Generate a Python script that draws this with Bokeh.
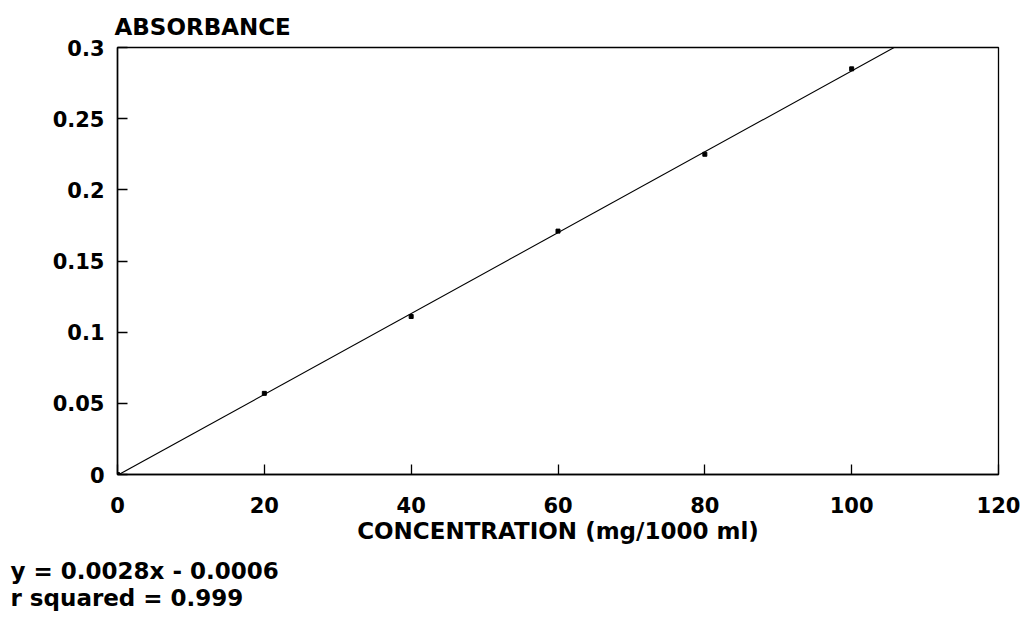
import numpy as np
from bokeh.plotting import figure
from bokeh.models import Range1d, FixedTicker, CustomJSTickFormatter, Title
from bokeh.embed import file_html
from bokeh.resources import INLINE

# data
conc = [0, 20, 40, 60, 80, 100]
absorb = [0.0, 0.057, 0.111, 0.171, 0.225, 0.285]
x_ticks = [0, 20, 40, 60, 80, 100, 120]
y_ticks = [0, 0.05, 0.1, 0.15, 0.2, 0.25, 0.3]
eq_text = "y = 0.0028x - 0.0006"
r2_text = "r squared = 0.999"

FONT = "DejaVu Sans"

p = figure(width=1030, height=624, output_backend="svg", toolbar_location=None,
           x_range=Range1d(0, 120), y_range=Range1d(0, 0.3),
           min_border_left=117, min_border_right=32, min_border_top=47,
           min_border_bottom=150)
p.background_fill_color = "white"
p.border_fill_color = "white"
p.outline_line_color = "black"
p.outline_line_width = 1.3
p.grid.visible = False

# fitted line (least squares from data), clipped at y top
slope, intercept = np.polyfit(conc, absorb, 1)
x_end = (0.3 - intercept) / slope
p.line([0, x_end], [intercept, 0.3], line_color="black", line_width=1.1)
p.scatter(conc, absorb, marker="square", size=4, color="black")

for ax in (p.xaxis[0], p.yaxis[0]):
    ax.axis_line_color = "black"
    ax.axis_line_width = 1.5
    ax.major_tick_in = 10
    ax.major_tick_out = 0
    ax.major_tick_line_width = 1.3
    ax.minor_tick_line_color = None
    ax.major_label_text_font = FONT
    ax.major_label_text_font_size = "21px"
    ax.major_label_text_font_style = "bold"
    ax.major_label_text_color = "black"

p.xaxis[0].ticker = FixedTicker(ticks=x_ticks)
p.yaxis[0].ticker = FixedTicker(ticks=y_ticks)
p.yaxis[0].formatter = CustomJSTickFormatter(code="return String(Math.round(tick*100)/100);")
p.xaxis[0].formatter = CustomJSTickFormatter(code="return String(Math.round(tick));")
p.xaxis[0].major_label_standoff = 22
p.yaxis[0].major_label_standoff = 13

p.xaxis[0].axis_label = "CONCENTRATION (mg/1000 ml)"
p.xaxis[0].axis_label_text_font = FONT
p.xaxis[0].axis_label_text_font_size = "23px"
p.xaxis[0].axis_label_text_font_style = "bold"
p.xaxis[0].axis_label_text_color = "black"
p.xaxis[0].axis_label_standoff = 2

p.title.text = "ABSORBANCE"
p.title.align = "left"
p.title.text_font = FONT
p.title.text_font_size = "23px"
p.title.text_font_style = "bold"
p.title.text_color = "black"
p.title.standoff = 15
p.title.offset = -3

for txt, so in ((eq_text, 18), (r2_text, -20)):
    t = Title(text=txt, align="left", offset=-107, standoff=so,
              text_font=FONT, text_font_size="23px", text_font_style="bold",
              text_color="black")
    p.add_layout(t, "below")

open("out.html", "w").write(file_html(p, INLINE))
